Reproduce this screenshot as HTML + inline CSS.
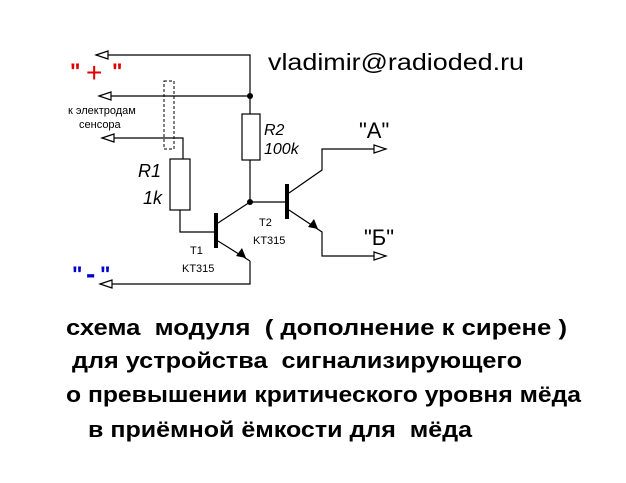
<!DOCTYPE html>
<html><head><meta charset="utf-8"><style>body{margin:0;background:#fff}svg{display:block}</style></head><body>
<svg width="626" height="483" viewBox="0 0 626 483" xmlns="http://www.w3.org/2000/svg" font-family="Liberation Sans, sans-serif">
<g stroke="#000" stroke-width="1.2" fill="none">
<polyline points="250,96 250,55 96,55"/>
<polygon points="96,55 108,51 108,59" fill="#fff"/>
<line x1="250" y1="96" x2="99" y2="96"/>
<polygon points="99,96 111,92 111,100" fill="#fff"/>
<polyline points="102,138 183,138 183,159"/>
<polygon points="102,138 114,134 114,142" fill="#fff"/>
<rect x="164" y="81" width="10" height="68" stroke-dasharray="3,2" stroke-width="1"/>
<rect x="170" y="159" width="20" height="51" fill="#fff"/>
<polyline points="180,210 180,232 216,232"/>
<line x1="250" y1="96" x2="250" y2="114"/>
<rect x="242" y="114" width="18" height="46" fill="#fff"/>
<line x1="250" y1="160" x2="250" y2="202"/>
<line x1="250" y1="202" x2="287" y2="202"/>
<line x1="218" y1="223" x2="250" y2="202"/>
<line x1="218" y1="241" x2="250" y2="261"/>
<polyline points="250,261 250,284 100,284"/>
<polygon points="100,284 112,280 112,288" fill="#fff"/>
<polyline points="289,193 322,170 322,149 386,149"/>
<polygon points="386,149 374,145 374,153" fill="#fff"/>
<polyline points="289,210 322,232 322,256 386,256"/>
<polygon points="386,256 374,252 374,260" fill="#fff"/>
</g>
<rect x="214" y="213" width="4" height="35" fill="#000"/>
<rect x="285" y="184" width="4" height="35" fill="#000"/>
<polygon points="246,258 236,256 242,248" fill="#000"/>
<polygon points="318,229 308,227 314,219" fill="#000"/>
<circle cx="250" cy="96" r="3" fill="#000"/>
<circle cx="250" cy="202" r="3" fill="#000"/>
<text x="70" y="79" font-size="22" font-weight="bold" fill="#e00000">"</text>
<text x="86" y="82" font-size="28" fill="#e00000">+</text>
<text x="112" y="79" font-size="22" font-weight="bold" fill="#e00000">"</text>
<text x="72" y="282" font-size="22" font-weight="bold" fill="#0000cc">"</text>
<text x="86" y="283" font-size="28" font-weight="bold" fill="#0000cc">-</text>
<text x="100" y="282" font-size="22" font-weight="bold" fill="#0000cc">"</text>
<text x="68" y="114" font-size="11">к электродам</text>
<text x="79" y="128" font-size="11">сенсора</text>
<text x="268" y="70" font-size="23" textLength="256" lengthAdjust="spacingAndGlyphs">vladimir@radioded.ru</text>
<text x="138" y="177" font-size="18" font-style="italic">R1</text>
<text x="143" y="204" font-size="18" font-style="italic">1k</text>
<text x="264" y="135" font-size="16" font-style="italic">R2</text>
<text x="264" y="154" font-size="16" font-style="italic">100k</text>
<text x="359" y="138" font-size="22">"A"</text>
<text x="364" y="245" font-size="22">"Б"</text>
<text x="190" y="254" font-size="11">T1</text>
<text x="182" y="272" font-size="11">KT315</text>
<text x="259" y="226" font-size="11">T2</text>
<text x="253" y="244" font-size="11">KT315</text>
<g font-size="22" font-weight="bold">
<text x="66" y="335" textLength="501" lengthAdjust="spacingAndGlyphs" xml:space="preserve">схема  модуля  ( дополнение к сирене )</text>
<text x="72" y="368" textLength="450" lengthAdjust="spacingAndGlyphs" xml:space="preserve">для устройства  сигнализирующего</text>
<text x="66" y="402" textLength="515" lengthAdjust="spacingAndGlyphs">о превышении критического уровня мёда</text>
<text x="88" y="437" textLength="384" lengthAdjust="spacingAndGlyphs" xml:space="preserve">в приёмной ёмкости для  мёда</text>
</g>
</svg>
</body></html>
